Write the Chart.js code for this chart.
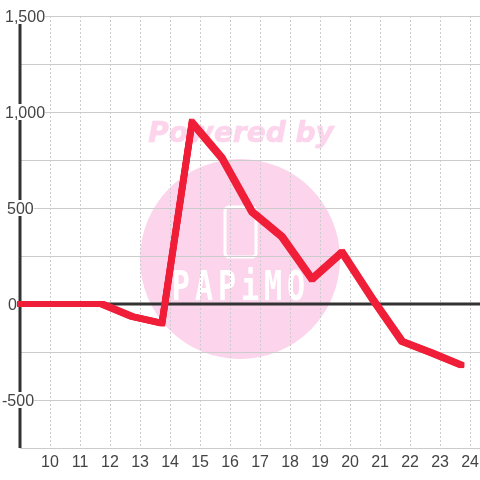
<!DOCTYPE html>
<html>
<head>
<meta charset="utf-8">
<style>
  html, body { margin: 0; padding: 0; background: #fff; }
  #wrap { width: 480px; height: 480px; position: relative; }
</style>
<script src="https://cdn.jsdelivr.net/npm/chart.js@4/dist/chart.umd.min.js"></script>
</head>
<body>
<div id="wrap"><canvas id="chart" width="480" height="480"></canvas></div>
<script>
const hours = [8.75, 9.75, 10.75, 11.75, 12.75, 13.75, 14.75, 15.75, 16.75, 17.75, 18.75, 19.75, 20.75, 21.75, 22.75, 23.75];
const values = [0, 0, 0, 0, -65, -100, 945, 760, 480, 350, 130, 270, 30, -195, -255, -320];
const yTickLabels = ["1,500", "1,000", "500", "0", "-500"];
const yTickValues = [1500, 1000, 500, 0, -500];
const watermarkTitle = "Powered by";
const watermarkName = "PAPiMO";

const PINK = "#fcd5ec";
const AXIS_DARK = "#333333";
const GRID = "#cccccc";
const LABEL = "#444444";

// left edge of each y label, the labels are not lined up in the original
const yLabelLeft = { "1,500": 5, "1,000": 5, "500": 7, "0": 8, "-500": 2 };

const watermarkPlugin = {
  id: "watermark",
  beforeDraw(chart) {
    const context = chart.ctx;
    context.save();
    context.fillStyle = "#ffffff";
    context.fillRect(0, 0, chart.width, chart.height);

    context.fillStyle = PINK;
    context.beginPath();
    context.arc(240, 259, 100, 0, Math.PI * 2);
    context.fill();

    context.font = "italic bold 28px 'DejaVu Sans'";
    context.textAlign = "center";
    context.textBaseline = "middle";
    context.fillText(watermarkTitle, 241, 135);
    context.strokeStyle = PINK;
    context.lineWidth = 0.7;
    context.strokeText(watermarkTitle, 241, 135);

    context.strokeStyle = "#ffffff";
    context.lineWidth = 3;
    context.beginPath();
    context.roundRect(225, 207, 31, 50, 4);
    context.stroke();

    context.fillStyle = "#ffffff";
    context.font = "bold 30px 'DejaVu Sans Mono'";
    context.letterSpacing = "5px";
    context.translate(241, 289);
    context.scale(1, 1.35);
    context.fillText(watermarkName, 0, 0);
    context.restore();
  },
};

const yLabelPlugin = {
  id: "yLabels",
  afterDatasetsDraw(chart) {
    const context = chart.ctx;
    const yScale = chart.scales.y;

    context.save();
    context.font = "16px 'Liberation Sans'";
    context.textBaseline = "middle";
    context.textAlign = "left";

    yTickValues.forEach((tickValue, tickIndex) => {
      const label = yTickLabels[tickIndex];
      const left = yLabelLeft[label];
      const y = yScale.getPixelForValue(tickValue);
      const width = context.measureText(label).width;

      context.fillStyle = "#ffffff";
      context.fillRect(left, y - 8, width, 16);
      context.fillStyle = LABEL;
      context.fillText(label, left, y + 2);
    });

    context.restore();
  },
};

const axisLinePlugin = {
  id: "axisLine",
  beforeDatasetsDraw(chart) {
    const context = chart.ctx;
    const xScale = chart.scales.x;
    const yScale = chart.scales.y;
    const zeroY = yScale.getPixelForValue(0);

    context.save();
    context.strokeStyle = AXIS_DARK;
    context.lineWidth = 3;
    context.beginPath();
    context.moveTo(xScale.left, yScale.top);
    context.lineTo(xScale.left, yScale.bottom);
    context.moveTo(xScale.left, zeroY);
    context.lineTo(xScale.right, zeroY);
    context.stroke();
    context.restore();
  },
};

// the original line looks drawn with a rectangular pen: thin on flat parts, thick on slopes
const penPlugin = {
  id: "rectPen",
  afterDatasetDraw(chart, args) {
    const context = chart.ctx;
    const area = chart.chartArea;
    const line = args.meta.dataset;

    context.save();
    context.beginPath();
    context.rect(area.left - 3, area.top, area.right - area.left + 3, area.bottom - area.top);
    context.clip();

    for (let offsetX = -2.75; offsetX <= 2.75; offsetX += 1.1) {
      for (let offsetY = -2; offsetY <= 2; offsetY += 1) {
        context.save();
        context.translate(offsetX, offsetY);
        line.draw(context, area);
        context.restore();
      }
    }

    context.restore();
  },
};

new Chart(document.getElementById("chart"), {
  type: "line",
  data: {
    datasets: [
      {
        data: hours.map((hour, index) => ({ x: hour, y: values[index] })),
        borderColor: "#f01f39",
        borderWidth: 2,
        pointRadius: 0,
        tension: 0,
        borderJoinStyle: "miter",
        borderCapStyle: "butt",
      },
    ],
  },
  plugins: [watermarkPlugin, axisLinePlugin, yLabelPlugin, penPlugin],
  options: {
    responsive: false,
    animation: false,
    layout: { padding: { left: 20, top: 16, right: 0, bottom: 0 } },
    plugins: { legend: { display: false }, tooltip: { enabled: false } },
    scales: {
      x: {
        type: "linear",
        min: 9,
        max: 24.33,
        afterFit(scale) {
          scale.height = 32;
          scale.paddingLeft = 0;
          scale.paddingRight = 0;
        },
        ticks: {
          stepSize: 1,
          includeBounds: false,
          color: LABEL,
          padding: 5,
          maxRotation: 0,
          font: { family: "'Liberation Sans'", size: 16 },
          callback: (value) => (value >= 10 ? String(value) : ""),
        },
        border: { display: false, dash: [2, 2] },
        grid: { color: GRID, lineWidth: 1, drawTicks: false },
      },
      y: {
        min: -750,
        max: 1500,
        afterFit(scale) { scale.width = 0; },
        ticks: { stepSize: 250, display: false },
        border: { display: false },
        grid: { color: GRID, lineWidth: 1, drawTicks: false },
      },
    },
  },
});
</script>
</body>
</html>
